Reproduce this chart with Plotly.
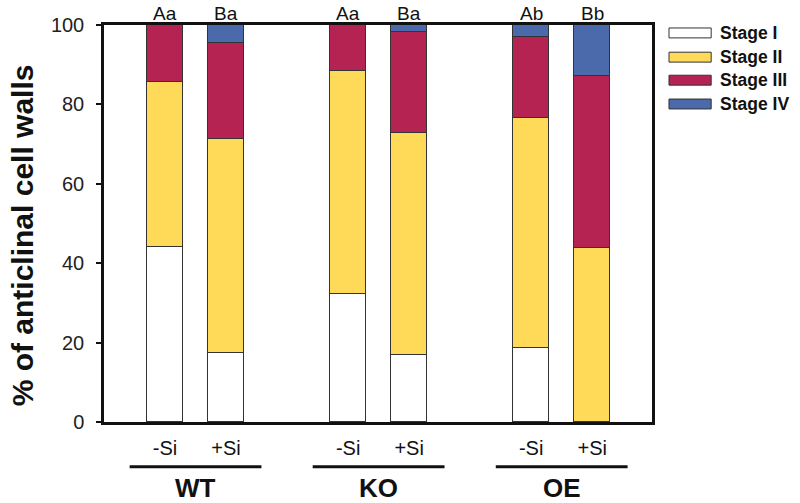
import plotly.graph_objects as go

# ---- data ----
groups = ["WT", "KO", "OE"]
treatments = ["-Si", "+Si", "-Si", "+Si", "-Si", "+Si"]
positions = [0, 1, 3, 4, 6, 7]
stage_names = ["Stage I", "Stage II", "Stage III", "Stage IV"]
stage_I = [44.0, 17.3, 32.2, 16.8, 18.6, 0.0]
stage_II = [41.6, 54.1, 56.1, 56.1, 58.1, 43.9]
stage_III = [14.4, 24.0, 11.7, 25.4, 20.3, 43.3]
stage_IV = [0.0, 4.6, 0.0, 1.7, 3.0, 12.8]
letters = ["Aa", "Ba", "Aa", "Ba", "Ab", "Bb"]
group_centers = [0.5, 3.5, 6.5]
y_title = "% of anticlinal cell walls"

colors = ["#FFFFFF", "#FEDA58", "#B52352", "#4A6AAB"]
FONT = "Liberation Sans, Arial, sans-serif"

fig = go.Figure()
for name, vals, col in zip(stage_names, [stage_I, stage_II, stage_III, stage_IV], colors):
    fig.add_trace(go.Bar(
        x=positions, y=vals, name=name, width=0.59,
        marker=dict(color=col, line=dict(color="#333333", width=1)),
        showlegend=False,
    ))

# letters above bars
for p, t in zip(positions, letters):
    fig.add_annotation(x=p, y=100, text=t, showarrow=False, yanchor="middle", yshift=12,
                       borderpad=0,
                       font=dict(family=FONT, size=19, color="#111"))

# group lines & labels
for c, g in zip(group_centers, groups):
    fig.add_shape(type="line", xref="x", yref="paper", x0=c - 1.08, x1=c + 1.08,
                  y0=-0.113, y1=-0.113, line=dict(color="#111", width=3))
    fig.add_annotation(x=c, xref="x", yref="paper", y=-0.166, text="<b>%s</b>" % g,
                       showarrow=False, yanchor="middle",
                       font=dict(family=FONT, size=26, color="#111"))

# y-axis title
fig.add_annotation(xref="paper", yref="paper", x=-0.148, y=0.47, text="<b>%s</b>" % y_title,
                   textangle=-90, showarrow=False, xanchor="center", yanchor="middle",
                   font=dict(family=FONT, size=30, color="#111"))

# legend (drawn)
row_y = [0.980, 0.919, 0.861, 0.801]
for name, col, yy in zip(stage_names, colors, row_y):
    fig.add_shape(type="rect", xref="paper", yref="paper", x0=1.031, x1=1.108,
                  y0=yy - 0.0125, y1=yy + 0.0125, fillcolor=col,
                  line=dict(color="#333", width=1))
    fig.add_annotation(xref="paper", yref="paper", x=1.122, y=yy, text="<b>%s</b>" % name,
                       showarrow=False, xanchor="left", yanchor="middle", borderpad=0,
                       font=dict(family=FONT, size=17.5, color="#111"))

fig.update_layout(
    barmode="stack",
    width=800, height=503,
    margin=dict(l=104, r=148, t=25, b=81, autoexpand=False),
    plot_bgcolor="white", paper_bgcolor="white",
    font=dict(family=FONT, color="#111"),
    bargap=0,
)
fig.update_xaxes(range=[-1.0, 7.98], tickvals=positions, ticktext=treatments,
                 showline=True, linecolor="#111", linewidth=2.5, mirror=True,
                 ticks="", showgrid=False, zeroline=False, automargin=False,
                 ticklabelstandoff=6,
                 tickfont=dict(family=FONT, size=20, color="#111"))
fig.update_yaxes(range=[0, 100], tickvals=[0, 20, 40, 60, 80, 100],
                 showline=True, linecolor="#111", linewidth=2.5, mirror=True,
                 ticks="outside", ticklen=5, tickwidth=2, tickcolor="#111",
                 ticklabelstandoff=8, automargin=False,
                 showgrid=False, zeroline=False,
                 tickfont=dict(family=FONT, size=20, color="#222"))

# remove the default 8px page margin so the 800x503 figure fills the window
fig.write_html("out.html", config={"displayModeBar": False},
               post_script="document.body.style.margin='0px';")
